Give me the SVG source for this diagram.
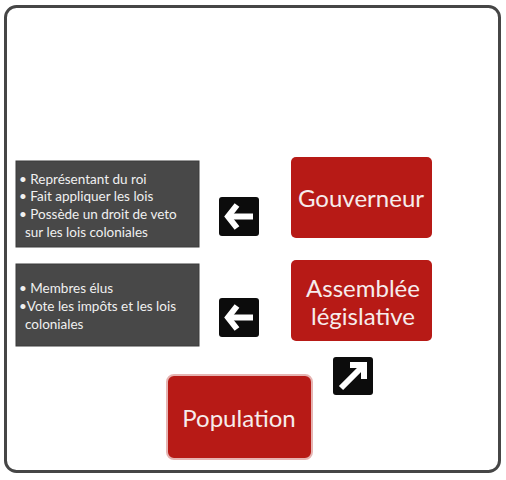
<svg xmlns="http://www.w3.org/2000/svg" width="506" height="480" viewBox="0 0 506 480">
<defs>
<style>
.red{fill:#b71a16;}
.redt{font-family:Lato,"Open Sans",sans-serif;font-size:24px;fill:#f6ecec;text-anchor:middle;}
.info{fill:#484848;stroke:#3a3a3a;stroke-width:1;}
.infot{font-family:Lato,"Open Sans",sans-serif;font-size:13.5px;fill:#f0f0f0;}
.ico{fill:#0c0c0c;}
.arr{fill:none;stroke:#ffffff;stroke-width:6;stroke-linecap:butt;stroke-linejoin:miter;}
</style>
</defs>
<rect x="5.5" y="6.5" width="494" height="465" rx="11" fill="#ffffff" stroke="#464646" stroke-width="3"/>
<g id="info-gouverneur">
<rect class="info" x="16" y="161" width="183" height="86"/>
<text class="infot" x="19" y="184">• Représentant du roi</text>
<text class="infot" x="19" y="201">• Fait appliquer les lois</text>
<text class="infot" x="19" y="219">• Possède un droit de veto</text>
<text class="infot" x="25" y="237">sur les lois coloniales</text>
</g>
<g id="info-assemblee">
<rect class="info" x="16" y="264" width="183" height="82"/>
<text class="infot" x="19" y="293">• Membres élus</text>
<text class="infot" x="19" y="311">•Vote les impôts et les lois</text>
<text class="infot" x="25" y="329">coloniales</text>
</g>
<g id="gouverneur">
<rect class="red" x="291" y="157" width="141" height="81" rx="5"/>
<text class="redt" x="361" y="207">Gouverneur</text>
</g>
<g id="assemblee">
<rect class="red" x="291" y="260" width="141" height="81" rx="5"/>
<text class="redt" x="363" y="297">Assemblée</text>
<text class="redt" x="363" y="325">législative</text>
</g>
<g id="population">
<rect class="red" x="167" y="375" width="145" height="84" rx="7" stroke="#e6b4b2" stroke-width="2"/>
<text class="redt" x="239" y="427">Population</text>
</g>
<g id="connectors">
<g id="arrow-gouverneur">
<rect class="ico" x="219" y="197" width="40" height="39" rx="3"/>
<path class="arr" d="M237 205 L228 216.5 L237 228"/>
<path class="arr" d="M229 216.5 H253"/>
</g>
<g id="arrow-assemblee">
<rect class="ico" x="219" y="298" width="40" height="39" rx="3"/>
<path class="arr" d="M237 306 L228 317.5 L237 329"/>
<path class="arr" d="M229 317.5 H253"/>
</g>
<g id="arrow-population">
<rect class="ico" x="333" y="357" width="40" height="38" rx="3"/>
<path class="arr" d="M350 365 H364 V379"/>
<path class="arr" d="M363 366 L341 388"/>
</g>
</g>
</svg>
